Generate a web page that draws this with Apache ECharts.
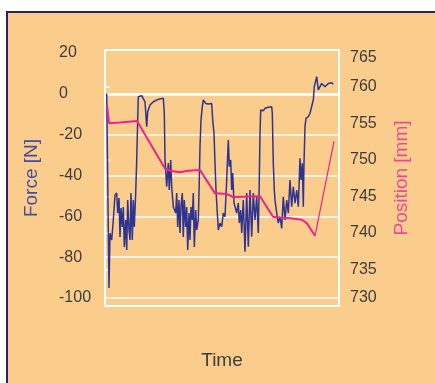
<!DOCTYPE html>
<html>
<head>
<meta charset="utf-8">
<script src="https://cdn.jsdelivr.net/npm/echarts@6/dist/echarts.min.js"></script>
<style>
  html, body { margin: 0; padding: 0; background: #ffffff; }
  #main { width: 435px; height: 383px; }
</style>
</head>
<body>
<div id="main"></div>
<script>
// force curve (time in arbitrary units, force in N)
var forceTime = [1.7, 4, 5, 6.7, 8.3, 10, 11.7, 12.7, 14, 15, 16, 17.3, 18.3, 19.3, 20.7, 21.7, 22.7, 24, 25, 26,
  27.3, 28.3, 29.3, 30.7, 31.7, 32.7, 33.3, 34.3, 36.7, 38.3, 40, 41.7, 42.7, 45, 48.3, 53.3, 58.3, 59.3, 60, 61.7,
  63.3, 64.3, 65.7, 66.7, 68.3, 70.7, 71.7, 72.7, 74, 75, 76, 77.3, 78.3, 79.3, 80.7, 81.7, 82.7, 84, 85, 86,
  87.3, 88.3, 89.3, 90.7, 91.7, 93.3, 94.3, 95, 96, 97.3, 98.3, 99.3, 100.7, 103.3, 106.7, 107.7, 109, 110, 111, 112.3,
  113.3, 115, 116.7, 118.3, 120, 121.7, 123.3, 124.3, 125.7, 126.7, 127.7, 129, 131.7, 133.3, 134.3, 135.7, 136.7, 138.3, 140, 141.7,
  143.3, 145, 146.7, 148.3, 150, 151.7, 153.3, 154.3, 155, 155.7, 156.7, 158.3, 160, 161.7, 163.3, 165, 166.7, 167.3, 168.3, 169.3,
  170, 171.7, 173.3, 175, 176.7, 178.3, 180, 181.7, 183.3, 185, 186.7, 188.3, 190, 191.7, 193.3, 195, 196, 197.3, 198.3, 199,
  200, 201, 203.3, 205, 206.7, 208.3, 209.3, 211.7, 213.3, 216.7, 220, 223.3, 226.7, 228.3];
var forceValue = [0.2, -95.1, -68.3, -71.6, -61.8, -49.6, -48.6, -58.4, -51, -70.1, -55.9, -65.2, -55.4, -75, -61.8, -76.5, -52, -66.7, -71.6, -48.6,
  -71.6, -52, -65.2, -48.6, -32.4, -12.8, -1.4, -0.6, -0.9, -1.4, -3.9, -16.1, -8.8, -5.5, -3.9, -2.7, -2.2, -9.4, -32.4, -45.5,
  -33.9, -47.1, -32.4, -45.5, -55.3, -58.4, -48.6, -65.2, -52, -68.2, -55.4, -48.6, -70.1, -52, -65.2, -55.4, -76.5, -58.4, -71.6, -55.4,
  -61.8, -48.6, -75, -56.9, -66.7, -61.8, -42.2, -25.9, -12.8, -6.3, -3, -2.2, -4.7, -5, -4.7, -12.8, -19.3, -34, -47.1, -58.4,
  -66.7, -63.3, -65.1, -58.4, -60.2, -42.2, -22.6, -35.7, -32.4, -47.1, -38.8, -53.5, -58.4, -53.5, -63.3, -56.9, -68.2, -52, -77.3, -48.6,
  -74.9, -47.1, -70, -48.6, -61.8, -50.4, -68.2, -42.2, -19.2, -7.9, -7.1, -8.3, -7.1, -7.9, -6.6, -7.1, -6.3, -9.5, -34, -47.1,
  -52, -58.4, -63.3, -60.2, -65.9, -50.4, -61.8, -52, -58.4, -42.2, -55.3, -45.5, -53.5, -47.1, -55.3, -31.6, -42.2, -34, -55.3, -34,
  -16.1, -12, -11.2, -9.5, -8.8, -3, 3.5, 8.4, 1.9, 5.1, 3.5, 5.1, 5.4, 4.7];

// position curve (mm)
var posTime = [2, 4, 15, 32, 60, 65, 75, 83, 95, 110, 122, 128, 155, 168, 175, 185, 197, 202, 210];
var posValue = [757.5, 755.0, 755.1, 755.3, 748.8, 748.5, 748.3, 748.5, 748.6, 745.4, 745.3, 744.9, 745.0, 742.2, 742.1, 742.0, 741.8, 741.3, 739.6];
// last return stroke (thin line)
var returnTime = [210, 229];
var returnValue = [739.6, 752.5];

var forceTicks = [-100, -80, -60, -40, -20, 0, 20];
var posTicks = [730, 735, 740, 745, 750, 755, 760, 765];

function pairs(t, v) {
  var out = [];
  for (var i = 0; i < t.length; i++) {
    out.push([t[i], v[i]]);
  }
  return out;
}

var bgColor = '#fbcd8d';
var textColor = '#3d3d3d';
var fontName = 'Liberation Sans';

var myChart = echarts.init(document.getElementById('main'));

var option = {
  animation: false,
  graphic: [
    { // orange panel with dark frame
      type: 'rect',
      z: -10,
      shape: { x: 7, y: 12, width: 440, height: 390 },
      style: { fill: bgColor, stroke: '#2b2360', lineWidth: 2 }
    },
    {
      type: 'text', x: 32, y: 178, rotation: Math.PI / 2,
      style: { text: 'Force [N]', fill: '#4a4d9e', font: '19px "Liberation Sans"', textAlign: 'center', textVerticalAlign: 'middle' }
    },
    {
      type: 'text', x: 402, y: 178, rotation: Math.PI / 2,
      style: { text: 'Position [mm]', fill: '#ec4a98', font: '19px "Liberation Sans"', textAlign: 'center', textVerticalAlign: 'middle' }
    },
    {
      type: 'text', x: 222, y: 361,
      style: { text: 'Time', fill: textColor, font: '19px "Liberation Sans"', textAlign: 'center', textVerticalAlign: 'middle' }
    }
  ],
  grid: [
    { // outer white box, position axis
      left: 105, right: 96, top: 50, bottom: 77,
      show: true, borderColor: '#ffffff', borderWidth: 2, backgroundColor: 'transparent'
    },
    { // force axis
      left: 105, right: 96, top: 53, bottom: 85
    }
  ],
  xAxis: [
    { gridIndex: 0, type: 'value', min: 0, max: 234, show: false },
    { gridIndex: 1, type: 'value', min: 0, max: 234, show: false }
  ],
  yAxis: [
    {
      gridIndex: 0,
      type: 'value',
      position: 'right',
      min: posTicks[0],
      max: posTicks[posTicks.length - 1],
      interval: 5,
      axisLine: { show: false },
      axisTick: { show: true, inside: false, length: 5, lineStyle: { color: '#ffffff', width: 1.5 } },
      axisLabel: {
        margin: 11,
        color: textColor,
        fontSize: 16,
        fontFamily: fontName,
        verticalAlignMaxLabel: 'top',
        verticalAlignMinLabel: 'bottom'
      },
      splitLine: { show: false }
    },
    {
      gridIndex: 1,
      type: 'value',
      position: 'left',
      min: forceTicks[0],
      max: forceTicks[forceTicks.length - 1],
      interval: 20,
      axisLine: { show: false },
      axisTick: { show: false },
      axisLabel: {
        margin: 46,
        align: 'left',
        color: textColor,
        fontSize: 16,
        fontFamily: fontName
      },
      splitLine: {
        show: true,
        showMaxLine: false,
        lineStyle: { color: '#ffffff', width: 1.5 }
      }
    }
  ],
  series: [
    {
      name: 'Force',
      type: 'line',
      xAxisIndex: 1,
      yAxisIndex: 1,
      showSymbol: false,
      z: 2,
      lineStyle: { color: '#2f3390', width: 1.5 },
      data: pairs(forceTime, forceValue),
      markLine: {
        silent: true,
        symbol: 'none',
        label: { show: false },
        lineStyle: { color: '#ffffff', width: 2.5, type: 'solid' },
        data: [{ yAxis: 0 }],
        z: 1
      }
    },
    {
      name: 'Position',
      type: 'line',
      xAxisIndex: 0,
      yAxisIndex: 0,
      showSymbol: false,
      z: 3,
      lineStyle: { color: '#e9258b', width: 2 },
      data: pairs(posTime, posValue)
    },
    {
      name: 'Position return',
      type: 'line',
      xAxisIndex: 0,
      yAxisIndex: 0,
      showSymbol: false,
      z: 3,
      lineStyle: { color: '#e9258b', width: 1.2 },
      data: pairs(returnTime, returnValue)
    }
  ]
};

myChart.setOption(option);
</script>
</body>
</html>
